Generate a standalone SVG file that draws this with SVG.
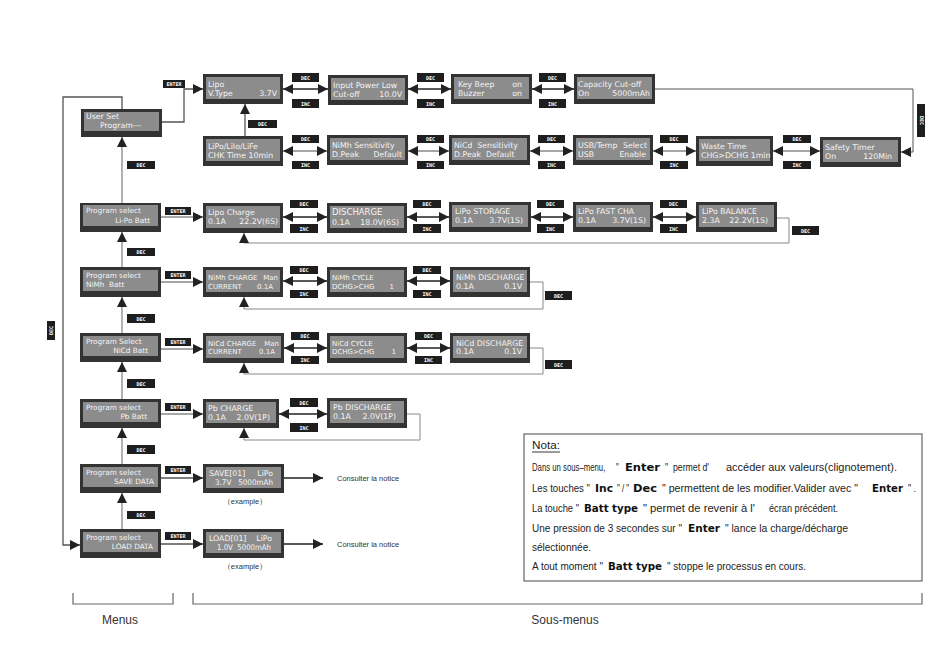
<svg xmlns="http://www.w3.org/2000/svg" width="950" height="667" viewBox="0 0 950 667">
<style>
.o{fill:#333}
.i{fill:#8c8c8c}
.t{font-family:"DejaVu Sans",sans-serif;font-size:7.8px;fill:#f4f4f4}
.m{font-family:"DejaVu Sans",sans-serif;font-size:7.3px;fill:#f4f4f4}
.r{text-anchor:end}
.lb{fill:#1e1e1e}
.lt{font-family:"DejaVu Sans Mono",monospace;font-size:5px;font-weight:bold;fill:#fff;text-anchor:middle}
.c{fill:none;stroke:#555;stroke-width:1.3}
.cd{fill:none;stroke:#222;stroke-width:1.4}
.cg{fill:none;stroke:#888;stroke-width:1.3}
.n{font-family:"Liberation Sans",sans-serif;font-size:10.5px;fill:#222}
.b{font-family:"DejaVu Sans",sans-serif;font-size:11px;font-weight:bold;fill:#111}
.s{font-family:"Liberation Sans",sans-serif;font-size:7.5px;fill:#333}
</style>
<defs>
<marker id="a" viewBox="0 0 10 10" refX="10" refY="5" markerWidth="10" markerHeight="10" markerUnits="userSpaceOnUse" orient="auto-start-reverse"><path d="M0,0 L10,5 L0,10 z" fill="#222"/></marker>
</defs>
<rect width="950" height="667" fill="#fff"/>

<g id="connectors">
<path class="c" d="M162,122 H184 V89 H203" marker-end="url(#a)"/>
<path class="c" d="M245,136 V104" marker-end="url(#a)"/>
<path class="cd" d="M283,89 H328" marker-start="url(#a)" marker-end="url(#a)"/>
<path class="cd" d="M408,89 H451" marker-start="url(#a)" marker-end="url(#a)"/>
<path class="cd" d="M532,89 H574" marker-start="url(#a)" marker-end="url(#a)"/>
<path class="c" style="stroke-width:1" d="M655,89 H913 V152 H901" marker-end="url(#a)"/>
<path class="cg" d="M283,151 H327" marker-start="url(#a)" marker-end="url(#a)"/>
<path class="cg" d="M408,151 H449" marker-start="url(#a)" marker-end="url(#a)"/>
<path class="cg" d="M530,151 H573" marker-start="url(#a)" marker-end="url(#a)"/>
<path class="cg" d="M653,151 H696" marker-start="url(#a)" marker-end="url(#a)"/>
<path class="cg" d="M773,151 H820" marker-start="url(#a)" marker-end="url(#a)"/>
<path class="cg" d="M122,203 V137" marker-end="url(#a)"/>
<path class="cg" d="M122,267 V232" marker-end="url(#a)"/>
<path class="cg" d="M122,333 V297" marker-end="url(#a)"/>
<path class="cg" d="M122,399 V362" marker-end="url(#a)"/>
<path class="cg" d="M122,464 V428" marker-end="url(#a)"/>
<path class="cg" d="M122,529 V493" marker-end="url(#a)"/>
<path class="c" d="M122,109 V97 H63 V545 H80" marker-end="url(#a)"/>
<path class="cg" d="M161,217 H203" marker-end="url(#a)"/>
<path class="cg" d="M161,282 H203" marker-end="url(#a)"/>
<path class="cg" d="M161,349 H203" marker-end="url(#a)"/>
<path class="cg" d="M161,414 H203" marker-end="url(#a)"/>
<path class="c" d="M161,478 H203" marker-end="url(#a)"/>
<path class="c" d="M161,544 H203" marker-end="url(#a)"/>
<path class="cd" d="M283,217 H327" marker-start="url(#a)" marker-end="url(#a)"/>
<path class="cd" d="M407,217 H449" marker-start="url(#a)" marker-end="url(#a)"/>
<path class="cd" d="M531,217 H573" marker-start="url(#a)" marker-end="url(#a)"/>
<path class="cd" d="M653,217 H696" marker-start="url(#a)" marker-end="url(#a)"/>
<path class="cg" style="stroke-width:1" d="M777,218 H789 V243 H244 V233" marker-end="url(#a)"/>
<path class="cd" d="M283,281 H327" marker-start="url(#a)" marker-end="url(#a)"/>
<path class="cd" d="M407,281 H450" marker-start="url(#a)" marker-end="url(#a)"/>
<path class="cg" style="stroke-width:1" d="M530,282 H543 V309 H244 V297" marker-end="url(#a)"/>
<path class="cd" d="M284,348 H327" marker-start="url(#a)" marker-end="url(#a)"/>
<path class="cd" d="M407,348 H450" marker-start="url(#a)" marker-end="url(#a)"/>
<path class="cg" style="stroke-width:1" d="M530,348 H543 V374 H244 V363" marker-end="url(#a)"/>
<path class="cd" d="M279,414 H327" marker-start="url(#a)" marker-end="url(#a)"/>
<path class="cg" style="stroke-width:1" d="M407,414 H420 V440 H244 V428" marker-end="url(#a)"/>
<path class="cd" d="M284,478 H323" marker-end="url(#a)"/>
<path class="cd" d="M284,544 H323" marker-end="url(#a)"/>
</g>

<g id="labels">
<rect class="lb" x="163" y="80" width="22" height="8"/><text class="lt" x="174" y="86">ENTER</text>
<rect class="lb" x="248" y="120" width="29" height="8"/><text class="lt" x="262.5" y="126">DEC</text>
<rect class="lb" x="292" y="73" width="27" height="9"/><text class="lt" x="305.5" y="79.5">DEC</text>
<rect class="lb" x="292" y="99" width="27" height="9"/><text class="lt" x="305.5" y="105.5">INC</text>
<rect class="lb" x="417" y="73" width="27" height="9"/><text class="lt" x="430.5" y="79.5">DEC</text>
<rect class="lb" x="417" y="99" width="27" height="9"/><text class="lt" x="430.5" y="105.5">INC</text>
<rect class="lb" x="539" y="73" width="27" height="9"/><text class="lt" x="552.5" y="79.5">DEC</text>
<rect class="lb" x="539" y="99" width="27" height="9"/><text class="lt" x="552.5" y="105.5">INC</text>
<rect class="lb" x="917" y="104" width="8" height="33"/><text class="lt" transform="translate(919.5,120.5) rotate(90)">DEC</text>
<rect class="lb" x="292" y="135" width="27" height="8"/><text class="lt" x="305.5" y="141">DEC</text>
<rect class="lb" x="292" y="161" width="27" height="8"/><text class="lt" x="305.5" y="167">INC</text>
<rect class="lb" x="417" y="135" width="27" height="8"/><text class="lt" x="430.5" y="141">DEC</text>
<rect class="lb" x="417" y="161" width="27" height="8"/><text class="lt" x="430.5" y="167">INC</text>
<rect class="lb" x="538" y="135" width="27" height="8"/><text class="lt" x="551.5" y="141">DEC</text>
<rect class="lb" x="538" y="161" width="27" height="8"/><text class="lt" x="551.5" y="167">INC</text>
<rect class="lb" x="660" y="135" width="28" height="8"/><text class="lt" x="674" y="141">DEC</text>
<rect class="lb" x="660" y="161" width="28" height="8"/><text class="lt" x="674" y="167">INC</text>
<rect class="lb" x="783" y="135" width="28" height="8"/><text class="lt" x="797" y="141">DEC</text>
<rect class="lb" x="783" y="161" width="28" height="8"/><text class="lt" x="797" y="167">INC</text>
<rect class="lb" x="290" y="200" width="28" height="8"/><text class="lt" x="304" y="206">DEC</text>
<rect class="lb" x="290" y="224" width="28" height="9"/><text class="lt" x="304" y="230.5">INC</text>
<rect class="lb" x="413" y="200" width="28" height="8"/><text class="lt" x="427" y="206">DEC</text>
<rect class="lb" x="413" y="224" width="28" height="9"/><text class="lt" x="427" y="230.5">INC</text>
<rect class="lb" x="537" y="200" width="27" height="8"/><text class="lt" x="550.5" y="206">DEC</text>
<rect class="lb" x="537" y="224" width="27" height="9"/><text class="lt" x="550.5" y="230.5">INC</text>
<rect class="lb" x="660" y="200" width="27" height="8"/><text class="lt" x="673.5" y="206">DEC</text>
<rect class="lb" x="660" y="224" width="27" height="9"/><text class="lt" x="673.5" y="230.5">INC</text>
<rect class="lb" x="792" y="226" width="27" height="9"/><text class="lt" x="805.5" y="232.5">DEC</text>
<rect class="lb" x="290" y="266" width="28" height="8"/><text class="lt" x="304" y="272">DEC</text>
<rect class="lb" x="290" y="290" width="28" height="8"/><text class="lt" x="304" y="296">INC</text>
<rect class="lb" x="413" y="266" width="28" height="8"/><text class="lt" x="427" y="272">DEC</text>
<rect class="lb" x="413" y="290" width="28" height="8"/><text class="lt" x="427" y="296">INC</text>
<rect class="lb" x="545" y="291" width="27" height="9"/><text class="lt" x="558.5" y="297.5">DEC</text>
<rect class="lb" x="291" y="332" width="28" height="8"/><text class="lt" x="305" y="338">DEC</text>
<rect class="lb" x="291" y="356" width="28" height="8"/><text class="lt" x="305" y="362">INC</text>
<rect class="lb" x="415" y="332" width="27" height="8"/><text class="lt" x="428.5" y="338">DEC</text>
<rect class="lb" x="415" y="356" width="27" height="8"/><text class="lt" x="428.5" y="362">INC</text>
<rect class="lb" x="545" y="360" width="27" height="9"/><text class="lt" x="558.5" y="366.5">DEC</text>
<rect class="lb" x="290" y="398" width="28" height="9"/><text class="lt" x="304" y="404.5">DEC</text>
<rect class="lb" x="290" y="423" width="28" height="9"/><text class="lt" x="304" y="429.5">INC</text>
<rect class="lb" x="127" y="161" width="28" height="8"/><text class="lt" x="141" y="167">DEC</text>
<rect class="lb" x="127" y="248" width="28" height="8"/><text class="lt" x="141" y="254">DEC</text>
<rect class="lb" x="127" y="314" width="28" height="9"/><text class="lt" x="141" y="320.5">DEC</text>
<rect class="lb" x="127" y="379" width="28" height="9"/><text class="lt" x="141" y="385.5">DEC</text>
<rect class="lb" x="127" y="445" width="28" height="9"/><text class="lt" x="141" y="451.5">DEC</text>
<rect class="lb" x="127" y="511" width="28" height="8"/><text class="lt" x="141" y="517">DEC</text>
<rect class="lb" x="47" y="321" width="8" height="19"/><text class="lt" transform="translate(52.8,330.5) rotate(-90)">DEC</text>
<rect class="lb" x="165" y="207" width="26" height="8"/><text class="lt" x="178" y="213">ENTER</text>
<rect class="lb" x="165" y="271" width="26" height="8"/><text class="lt" x="178" y="277">ENTER</text>
<rect class="lb" x="165" y="338" width="26" height="8"/><text class="lt" x="178" y="344">ENTER</text>
<rect class="lb" x="165" y="403" width="26" height="8"/><text class="lt" x="178" y="409">ENTER</text>
<rect class="lb" x="165" y="466" width="26" height="8"/><text class="lt" x="178" y="472">ENTER</text>
<rect class="lb" x="165" y="532" width="26" height="8"/><text class="lt" x="178" y="538">ENTER</text>
</g>

<!-- Menu column -->
<g id="n-user-set"><rect class="o" x="81" y="109" width="81" height="28"/><rect class="i" x="84" y="112" width="75" height="19"/><text class="t" x="86" y="119">User Set</text><text class="t" x="100" y="128">Program---</text></g>
<g id="n-menu-lipo"><rect class="o" x="80" y="203" width="81" height="29"/><rect class="i" x="83" y="205" width="75" height="21"/><text class="m" x="86" y="213">Program select</text><text class="m r" x="150" y="223">Li-Po Batt</text></g>
<g id="n-menu-nimh"><rect class="o" x="80" y="267" width="81" height="30"/><rect class="i" x="83" y="270" width="75" height="21"/><text class="m" x="86" y="278">Program select</text><text class="m" x="86" y="287" xml:space="preserve">NiMh  Batt</text></g>
<g id="n-menu-nicd"><rect class="o" x="80" y="333" width="81" height="29"/><rect class="i" x="83" y="336" width="75" height="20"/><text class="m" x="86" y="344">Program Select</text><text class="m r" x="148" y="353">NiCd Batt</text></g>
<g id="n-menu-pb"><rect class="o" x="80" y="399" width="81" height="29"/><rect class="i" x="83" y="402" width="75" height="20"/><text class="m" x="86" y="410">Program select</text><text class="m r" x="147" y="419">Pb Batt</text></g>
<g id="n-menu-save"><rect class="o" x="80" y="464" width="81" height="29"/><rect class="i" x="83" y="467" width="75" height="20"/><text class="m" x="86" y="475">Program select</text><text class="m r" x="154" y="484">SAVE DATA</text></g>
<g id="n-menu-load"><rect class="o" x="80" y="529" width="81" height="29"/><rect class="i" x="83" y="532" width="75" height="20"/><text class="m" x="86" y="540">Program select</text><text class="m r" x="153" y="549">LOAD DATA</text></g>

<!-- Row A -->
<g id="n-lipo-vtype"><rect class="o" x="203" y="74" width="80" height="30"/><rect class="i" x="206" y="77" width="74" height="22"/><text class="t" x="208" y="87">Lipo</text><text class="t" x="208" y="96">V.Type</text><text class="t r" x="277" y="96">3.7V</text></g>
<g id="n-input-power"><rect class="o" x="328" y="75" width="80" height="30"/><rect class="i" x="331" y="78" width="74" height="22"/><text class="t" x="333" y="88">Input Power Low</text><text class="t" x="333" y="97">Cut-off</text><text class="t r" x="402" y="97">10.0V</text></g>
<g id="n-key-beep"><rect class="o" x="451" y="74" width="81" height="30"/><rect class="i" x="454" y="77" width="75" height="22"/><text class="t" x="458" y="87">Key Beep</text><text class="t r" x="522" y="87">on</text><text class="t" x="458" y="96">Buzzer</text><text class="t r" x="522" y="96">on</text></g>
<g id="n-capacity"><rect class="o" x="574" y="74" width="81" height="30"/><rect class="i" x="577" y="77" width="75" height="22"/><text class="t" x="578" y="87">Capacity Cut-off</text><text class="t" x="578" y="96">On</text><text class="t r" x="650" y="96">5000mAh</text></g>

<!-- Row B -->
<g id="n-lipo-chk"><rect class="o" x="203" y="136" width="80" height="30"/><rect class="i" x="206" y="139" width="74" height="22"/><text class="t" x="208" y="149">LiPo/LiIo/LiFe</text><text class="t" x="208" y="158">CHK Time 10min</text></g>
<g id="n-nimh-sens"><rect class="o" x="327" y="135" width="81" height="30"/><rect class="i" x="330" y="138" width="75" height="22"/><text class="t" x="332" y="148">NiMh Sensitivity</text><text class="t" x="332" y="157">D.Peak</text><text class="t r" x="402" y="157">Default</text></g>
<g id="n-nicd-sens"><rect class="o" x="449" y="135" width="81" height="30"/><rect class="i" x="452" y="138" width="75" height="22"/><text class="t" x="454" y="148" xml:space="preserve">NiCd  Sensitivity</text><text class="t" x="454" y="157" xml:space="preserve">D.Peak  Default</text></g>
<g id="n-usb-temp"><rect class="o" x="573" y="135" width="80" height="30"/><rect class="i" x="576" y="138" width="74" height="22"/><text class="t" x="578" y="148">USB/Temp</text><text class="t r" x="647" y="148">Select</text><text class="t" x="578" y="157">USB</text><text class="t r" x="646" y="157">Enable</text></g>
<g id="n-waste-time"><rect class="o" x="696" y="136" width="77" height="30"/><rect class="i" x="699" y="139" width="71" height="22"/><text class="t" x="701" y="149">Waste Time</text><text class="t" x="701" y="158">CHG&gt;DCHG 1min</text></g>
<g id="n-safety-timer"><rect class="o" x="820" y="137" width="81" height="30"/><rect class="i" x="823" y="140" width="75" height="22"/><text class="t" x="825" y="150">Safety Timer</text><text class="t" x="825" y="159">On</text><text class="t r" x="892" y="159">120Min</text></g>

<!-- Li-Po row -->
<g id="n-lipo-charge"><rect class="o" x="203" y="203" width="80" height="30"/><rect class="i" x="206" y="206" width="74" height="22"/><text class="t" x="208" y="215">Lipo Charge</text><text class="t" x="208" y="224">0.1A</text><text class="t r" x="278" y="224">22.2V(6S)</text></g>
<g id="n-discharge"><rect class="o" x="327" y="203" width="80" height="30"/><rect class="i" x="330" y="206" width="74" height="22"/><text class="t" x="332" y="215" style="font-size:8.5px">DISCHARGE</text><text class="t" x="332" y="225">0.1A</text><text class="t r" x="399" y="225">18.0V(6S)</text></g>
<g id="n-lipo-storage"><rect class="o" x="449" y="202" width="82" height="30"/><rect class="i" x="452" y="205" width="76" height="22"/><text class="t" x="455" y="214">LiPo STORAGE</text><text class="t" x="455" y="223">0.1A</text><text class="t r" x="523" y="223">3.7V(1S)</text></g>
<g id="n-lipo-fast"><rect class="o" x="573" y="202" width="80" height="30"/><rect class="i" x="576" y="205" width="74" height="22"/><text class="t" x="578" y="214">LiPo FAST CHA</text><text class="t" x="578" y="223">0.1A</text><text class="t r" x="646" y="223">3.7V(1S)</text></g>
<g id="n-lipo-balance"><rect class="o" x="696" y="202" width="81" height="30"/><rect class="i" x="699" y="205" width="75" height="22"/><text class="t" x="702" y="214">LiPo BALANCE</text><text class="t" x="702" y="223">2.3A</text><text class="t r" x="768" y="223">22.2V(1S)</text></g>

<!-- NiMh row -->
<g id="n-nimh-charge"><rect class="o" x="203" y="267" width="80" height="30"/><rect class="i" x="206" y="270" width="74" height="22"/><text class="t" x="208" y="280" style="font-size:7px">NiMh CHARGE</text><text class="t r" x="278" y="280" style="font-size:7px">Man</text><text class="t" x="208" y="289" style="font-size:7px">CURRENT</text><text class="t r" x="273" y="289" style="font-size:7px">0.1A</text></g>
<g id="n-nimh-cycle"><rect class="o" x="327" y="267" width="80" height="30"/><rect class="i" x="330" y="270" width="74" height="22"/><text class="t" x="332" y="280" style="font-size:7px">NiMh CYCLE</text><text class="t" x="332" y="289" style="font-size:7px">DCHG&gt;CHG</text><text class="t r" x="394" y="289" style="font-size:7px">1</text></g>
<g id="n-nimh-discharge"><rect class="o" x="450" y="267" width="80" height="30"/><rect class="i" x="453" y="270" width="74" height="22"/><text class="t" x="456" y="280">NiMh DISCHARGE</text><text class="t" x="456" y="289">0.1A</text><text class="t r" x="522" y="289">0.1V</text></g>

<!-- NiCd row -->
<g id="n-nicd-charge"><rect class="o" x="203" y="333" width="81" height="30"/><rect class="i" x="206" y="336" width="75" height="22"/><text class="t" x="208" y="346" style="font-size:7px">NiCd CHARGE</text><text class="t r" x="279" y="346" style="font-size:7px">Man</text><text class="t" x="208" y="354" style="font-size:7px">CURRENT</text><text class="t r" x="275" y="354" style="font-size:7px">0.1A</text></g>
<g id="n-nicd-cycle"><rect class="o" x="327" y="333" width="80" height="30"/><rect class="i" x="330" y="336" width="74" height="22"/><text class="t" x="332" y="346" style="font-size:7px">NiCd CYCLE</text><text class="t" x="332" y="354" style="font-size:7px">DCHG&gt;CHG</text><text class="t r" x="396" y="354" style="font-size:7px">1</text></g>
<g id="n-nicd-discharge"><rect class="o" x="450" y="333" width="80" height="30"/><rect class="i" x="453" y="336" width="74" height="22"/><text class="t" x="456" y="346">NiCd DISCHARGE</text><text class="t" x="456" y="354">0.1A</text><text class="t r" x="522" y="354">0.1V</text></g>

<!-- Pb row -->
<g id="n-pb-charge"><rect class="o" x="203" y="399" width="76" height="29"/><rect class="i" x="206" y="402" width="70" height="21"/><text class="t" x="208" y="411">Pb CHARGE</text><text class="t" x="208" y="420">0.1A</text><text class="t r" x="270" y="420">2.0V(1P)</text></g>
<g id="n-pb-discharge"><rect class="o" x="327" y="398" width="80" height="30"/><rect class="i" x="330" y="401" width="74" height="22"/><text class="t" x="333" y="410">Pb DISCHARGE</text><text class="t" x="333" y="419">0.1A</text><text class="t r" x="396" y="419">2.0V(1P)</text></g>

<!-- SAVE / LOAD -->
<g id="n-save"><rect class="o" x="203" y="464" width="81" height="29"/><rect class="i" x="206" y="467" width="75" height="21"/><text class="t" x="209" y="476">SAVE[01]</text><text class="t r" x="273" y="476">LiPo</text><text class="t" x="215" y="485" textLength="58" lengthAdjust="spacingAndGlyphs" xml:space="preserve">3.7V   5000mAh</text></g>
<text class="s" x="245" y="504" text-anchor="middle" font-family="Liberation Sans, Noto Sans CJK SC, sans-serif">（example）</text>
<text class="s" x="337" y="481">Consulter la notice</text>
<g id="n-load"><rect class="o" x="203" y="529" width="81" height="29"/><rect class="i" x="206" y="532" width="75" height="21"/><text class="t" x="209" y="541">LOAD[01]</text><text class="t r" x="272" y="541">LiPo</text><text class="t" x="217" y="550" textLength="54" lengthAdjust="spacingAndGlyphs" xml:space="preserve">1.0V  5000mAh</text></g>
<text class="s" x="245" y="569" text-anchor="middle" font-family="Liberation Sans, Noto Sans CJK SC, sans-serif">（example）</text>
<text class="s" x="337" y="547">Consulter la notice</text>

<!-- Note -->
<g id="nota">
<rect x="524" y="434" width="398" height="147" fill="#fff" stroke="#666" stroke-width="1.2"/>
<text class="n" x="532" y="449" textLength="28" lengthAdjust="spacingAndGlyphs">Nota:</text>
<line x1="532" y1="452" x2="560" y2="452" stroke="#222" stroke-width="0.9"/>

<text class="n" transform="translate(532,471) scale(0.74,1)" x="0" y="0" xml:space="preserve">Dans un sous–menu,     "</text>
<text class="b" x="625" y="471" textLength="35" lengthAdjust="spacingAndGlyphs">Enter</text>
<text class="n" x="665" y="471" textLength="44" lengthAdjust="spacingAndGlyphs" xml:space="preserve">"  permet d'</text>
<text class="n" x="726" y="471" textLength="171" lengthAdjust="spacingAndGlyphs">accéder aux valeurs(clignotement).</text>

<text class="n" x="532" y="492" textLength="58" lengthAdjust="spacingAndGlyphs">Les touches "</text>
<text class="b" x="595" y="492" textLength="18" lengthAdjust="spacingAndGlyphs">Inc</text>
<text class="n" x="617" y="492" textLength="12" lengthAdjust="spacingAndGlyphs">" / "</text>
<text class="b" x="633" y="492" textLength="24" lengthAdjust="spacingAndGlyphs">Dec</text>
<text class="n" x="662" y="492" textLength="196" lengthAdjust="spacingAndGlyphs">" permettent de les modifier.Valider avec "</text>
<text class="b" x="872" y="492" textLength="31" lengthAdjust="spacingAndGlyphs">Enter</text>
<text class="n" x="908" y="492" textLength="8" lengthAdjust="spacingAndGlyphs">" .</text>

<text class="n" x="532" y="512" textLength="47" lengthAdjust="spacingAndGlyphs">La touche "</text>
<text class="b" x="584" y="512" textLength="54" lengthAdjust="spacingAndGlyphs">Batt type</text>
<text class="n" x="643" y="512" textLength="112" lengthAdjust="spacingAndGlyphs" xml:space="preserve">" permet de revenir à l'</text>
<text class="n" x="769" y="512" textLength="69" lengthAdjust="spacingAndGlyphs">écran précédent.</text>

<text class="n" x="532" y="532" textLength="150" lengthAdjust="spacingAndGlyphs" xml:space="preserve">Une pression de 3 secondes sur "</text>
<text class="b" x="688" y="532" textLength="32" lengthAdjust="spacingAndGlyphs">Enter</text>
<text class="n" x="725" y="532" textLength="123" lengthAdjust="spacingAndGlyphs">" lance la charge/décharge</text>

<text class="n" x="532" y="551" textLength="59" lengthAdjust="spacingAndGlyphs">sélectionnée.</text>

<text class="n" x="532" y="570" textLength="71" lengthAdjust="spacingAndGlyphs">A tout moment "</text>
<text class="b" x="608" y="570" textLength="54" lengthAdjust="spacingAndGlyphs">Batt type</text>
<text class="n" x="667" y="570" textLength="139" lengthAdjust="spacingAndGlyphs">" stoppe le processus en cours.</text>
</g>

<!-- Brackets -->
<g id="brackets">
<path d="M73,593 V604 H173 V593" fill="none" stroke="#666" stroke-width="1.2"/>
<path d="M193,593 V604 H922 V593" fill="none" stroke="#666" stroke-width="1.2"/>
<text x="120" y="624" text-anchor="middle" font-family="Liberation Sans, sans-serif" font-size="12" fill="#333">Menus</text>
<text x="565" y="624" text-anchor="middle" font-family="Liberation Sans, sans-serif" font-size="12" fill="#333">Sous-menus</text>
</g>
</svg>
